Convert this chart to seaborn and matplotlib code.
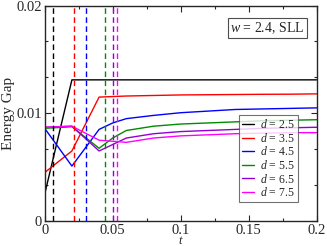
import numpy as np
import pandas as pd
import matplotlib
matplotlib.use("Agg")
import matplotlib.pyplot as plt
from matplotlib.ticker import MultipleLocator
import seaborn as sns

t = [0.0, 0.02, 0.04, 0.05, 0.06, 0.08, 0.10, 0.12, 0.14, 0.16, 0.18, 0.20]
d_labels = ["2.5", "3.5", "4.5", "5.5", "6.5", "7.5"]
gap_25 = [0.0025, 0.0131, 0.0131, 0.0131, 0.0131, 0.0131, 0.0131, 0.0131, 0.0131, 0.0131, 0.0131, 0.0131]
gap_35 = [0.0045, 0.0065, 0.0115, 0.01155, 0.0116, 0.01165, 0.0117, 0.01172, 0.01174, 0.01176, 0.01177, 0.0118]
gap_45 = [0.0086, 0.0051, 0.0085, 0.0091, 0.0095, 0.0098, 0.01005, 0.0102, 0.01035, 0.0104, 0.01045, 0.0105]
gap_55 = [0.0086, 0.00875, 0.00675, 0.0077, 0.0084, 0.0088, 0.0090, 0.0091, 0.0092, 0.0093, 0.00935, 0.0094]
gap_65 = [0.0087, 0.0088, 0.0065, 0.0071, 0.0077, 0.0081, 0.0083, 0.0084, 0.0085, 0.0086, 0.00865, 0.0087]
gap_75 = [0.0087, 0.0088, 0.0075, 0.0074, 0.0073, 0.0077, 0.0079, 0.0080, 0.0081, 0.00815, 0.0082, 0.0082]
t_mark = [0.0063, 0.0215, 0.030, 0.044, 0.050, 0.053]
colors = ["black", "red", "blue", "#008b00", "#9400d3", "#ff00ff"]
x_ticks = [0, 0.05, 0.1, 0.15, 0.2]
x_tick_labels = ["0", "0.05", "0.1", "0.15", "0.2"]
y_ticks = [0, 0.01, 0.02]
y_tick_labels = ["0", "0.01", "0.02"]

gaps = [gap_25, gap_35, gap_45, gap_55, gap_65, gap_75]
rows = []
for lab, g in zip(d_labels, gaps):
    for ti, gi in zip(t, g):
        rows.append({"t": ti, "gap": gi, "d": "$d$ = " + lab})
df = pd.DataFrame(rows)

sns.set_style("ticks")
plt.rcParams["font.family"] = ["Liberation Serif", "DejaVu Serif"]
plt.rcParams["mathtext.fontset"] = "custom"
plt.rcParams["mathtext.it"] = "Liberation Serif:italic"
plt.rcParams["mathtext.rm"] = "Liberation Serif"

fig = plt.figure(figsize=(3.27, 2.46), dpi=100)
ax = fig.add_axes([0.1367, 0.1016, 0.8318, 0.876])

sns.lineplot(data=df, x="t", y="gap", hue="d", palette=colors, linewidth=1.0, ax=ax, sort=True)
for tm, c in zip(t_mark, colors):
    ax.axvline(tm, color=c, linestyle=(0, (4, 2.5)), linewidth=1.0)

ax.set_xlim(0, 0.2)
ax.set_ylim(0, 0.02)
ax.set_xticks(x_ticks)
ax.set_xticklabels(x_tick_labels)
ax.set_yticks(y_ticks)
ax.set_yticklabels(y_tick_labels)
ax.xaxis.set_minor_locator(MultipleLocator(0.025))
ax.yaxis.set_minor_locator(MultipleLocator(0.01 / 3))
ax.tick_params(which="both", direction="in", top=True, right=True, labelsize=10.5, pad=2)
ax.tick_params(which="major", length=4, width=0.8)
ax.tick_params(which="minor", length=2, width=0.8)
for s in ax.spines.values():
    s.set_linewidth(1.0)
ax.set_xlabel("t", fontsize=9, style="italic", labelpad=-1)
ax.set_ylabel("Energy Gap", fontsize=11, labelpad=1)

ax.text(0.955, 0.895, "$w$ = 2.4, SLL", transform=ax.transAxes, ha="right", va="center",
        fontsize=10, bbox=dict(boxstyle="square,pad=0.15", fc="white", ec="0.3", lw=0.8))

leg = ax.legend(loc="lower right", bbox_to_anchor=(0.93, 0.088), fontsize=8.5, frameon=True,
                fancybox=False, edgecolor="0.3", handlelength=1.0, handletextpad=0.5,
                labelspacing=0.05, borderpad=0.25, borderaxespad=0)
leg.get_frame().set_linewidth(0.8)

fig.savefig("out.png", dpi=100)
